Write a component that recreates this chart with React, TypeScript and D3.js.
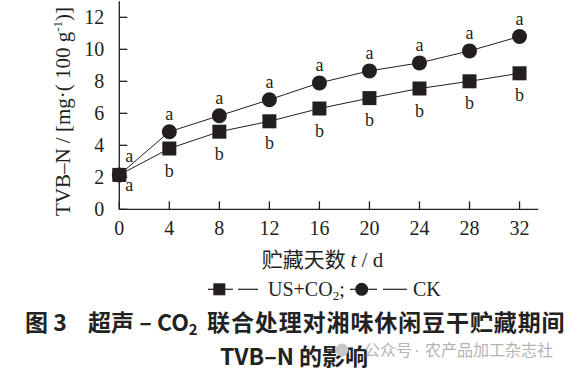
import * as React from 'react';
import * as d3 from 'd3';

// storage days and TVB-N values (mg/100 g)
const days = [0, 4, 8, 12, 16, 20, 24, 28, 32];
const usCo2 = [2.15, 3.8, 4.85, 5.5, 6.3, 6.95, 7.55, 8.0, 8.5];
const ck = [2.15, 4.85, 5.85, 6.85, 7.9, 8.65, 9.15, 9.9, 10.8];
const usLetters = ['a', 'b', 'b', 'b', 'b', 'b', 'b', 'b', 'b'];
const ckLetters = ['a', 'a', 'a', 'a', 'a', 'a', 'a', 'a', 'a'];
const xTicks = [0, 4, 8, 12, 16, 20, 24, 28, 32];
const yTicks = [0, 2, 4, 6, 8, 10, 12];

const W = 578;
const H = 374;
const ink = '#231f20';
const serif = '"Liberation Serif", "DejaVu Serif", serif';
const cjk = '"Noto Sans CJK SC", sans-serif';

const App: React.FC = () => {
  const x = d3.scaleLinear().domain([0, 33.5]).range([119.3, 538.3]);
  const y = d3.scaleLinear().domain([0, 13]).range([209.3, 1.3]);

  const line = d3.line<number>()
    .x((d, i) => x(days[i]))
    .y(d => y(d));

  const sq = 14;
  const r = 7.5;

  return (
    <svg width={W} height={H} style={{ position: 'absolute', left: 0, top: 0, background: '#fff' }}>
      {/* axes */}
      <g stroke={ink} strokeWidth={1.3} fill="none">
        <line x1={x(0)} x2={x(0)} y1={y(13)} y2={y(0)} />
        <line x1={x(0)} x2={x(33.5)} y1={y(0)} y2={y(0)} />
        {yTicks.map(t => (
          <line key={'yt' + t} x1={x(0)} x2={x(0) + 8} y1={y(t)} y2={y(t)} />
        ))}
        {xTicks.map(t => (
          <line key={'xt' + t} x1={x(t)} x2={x(t)} y1={y(0)} y2={y(0) - 8} />
        ))}
      </g>
      <g fontFamily={serif} fontSize={20} fill={ink}>
        {yTicks.map(t => (
          <text key={'yl' + t} x={x(0) - 15} y={y(t)} dy="0.35em" textAnchor="end">{t}</text>
        ))}
        {xTicks.map(t => (
          <text key={'xl' + t} x={x(t)} y={y(0) + 26} textAnchor="middle">{t}</text>
        ))}
      </g>

      {/* y axis title */}
      <text
        transform="translate(70,111.5) rotate(-90)"
        textAnchor="middle"
        fontFamily={serif}
        fontSize={21}
        fill={ink}
      >
        TVB–N / [mg·( 100 g<tspan fontSize={13} dy={-8}>-1</tspan><tspan dy={8}>)]</tspan>
      </text>

      {/* x axis title */}
      <text x={322.5} y={267} textAnchor="middle" fontSize={21} fill={ink}>
        <tspan fontFamily={cjk}>贮藏天数 </tspan>
        <tspan fontFamily={serif} fontStyle="italic">t</tspan>
        <tspan fontFamily={serif}> / d</tspan>
      </text>

      {/* series lines */}
      <path d={line(ck) || undefined} fill="none" stroke={ink} strokeWidth={1} />
      <path d={line(usCo2) || undefined} fill="none" stroke={ink} strokeWidth={1} />

      {/* markers */}
      <g fill={ink}>
        {ck.map((v, i) => (
          <circle key={'c' + i} cx={x(days[i])} cy={y(v)} r={r} />
        ))}
        {usCo2.map((v, i) => (
          <rect key={'s' + i} x={x(days[i]) - sq / 2} y={y(v) - sq / 2} width={sq} height={sq} />
        ))}
      </g>

      {/* significance letters */}
      <g fontFamily={serif} fontSize={18} fill={ink} textAnchor="middle">
        {ckLetters.map((l, i) => (
          <text key={'cl' + i} x={x(days[i]) + (i === 0 ? 10 : 0)} y={y(ck[i]) + (i === 0 ? -13 : -11.5)}>{l}</text>
        ))}
        {usLetters.map((l, i) => (
          <text key={'ul' + i} x={x(days[i]) + (i === 0 ? 10 : 0)} y={y(usCo2[i]) + (i === 0 ? 16.5 : 28)}>{l}</text>
        ))}
      </g>

      {/* legend */}
      <g stroke={ink} strokeWidth={1.2}>
        <line x1={208} x2={233} y1={289.3} y2={289.3} />
        <line x1={238} x2={258} y1={289.3} y2={289.3} />
        <line x1={350} x2={377} y1={289.3} y2={289.3} />
        <line x1={383} x2={407} y1={289.3} y2={289.3} />
      </g>
      <rect x={219.3 - 6} y={289.3 - 6} width={12} height={12} fill={ink} />
      <circle cx={361.7} cy={289.3} r={6.5} fill={ink} />
      <g fontFamily={serif} fontSize={20} fill={ink}>
        <text x={268} y={296}>US+CO<tspan fontSize={13} dy={4}>2</tspan><tspan dy={-4}>;</tspan></text>
        <text x={413} y={296}>CK</text>
      </g>

      {/* caption */}
      <g fontFamily={cjk} fontWeight={700} fontSize={23} fill="#222">
        <text x={25} y={331}>图 3</text>
        <text x={88} y={331}>
          超声 – CO<tspan fontSize={15} dy={4}>2</tspan>
        </text>
        <text x={207} y={331} letterSpacing={0.9}>联合处理对湘味休闲豆干贮藏期间</text>
        <text x={294} y={365} textAnchor="middle">TVB–N 的影响</text>
      </g>

      {/* watermark */}
      <circle cx={342} cy={350} r={6.5} fill="#c8c8c8" />
      <g fontSize={16} fill="#b4b4b4">
        <text x={364} y={356} fontFamily={cjk}>公众号</text>
        <text x={417} y={356} textAnchor="middle" fontFamily='"Liberation Sans", sans-serif'>·</text>
        <text x={425} y={356} fontFamily={cjk}>农产品加工杂志社</text>
      </g>
    </svg>
  );
};

export default App;
